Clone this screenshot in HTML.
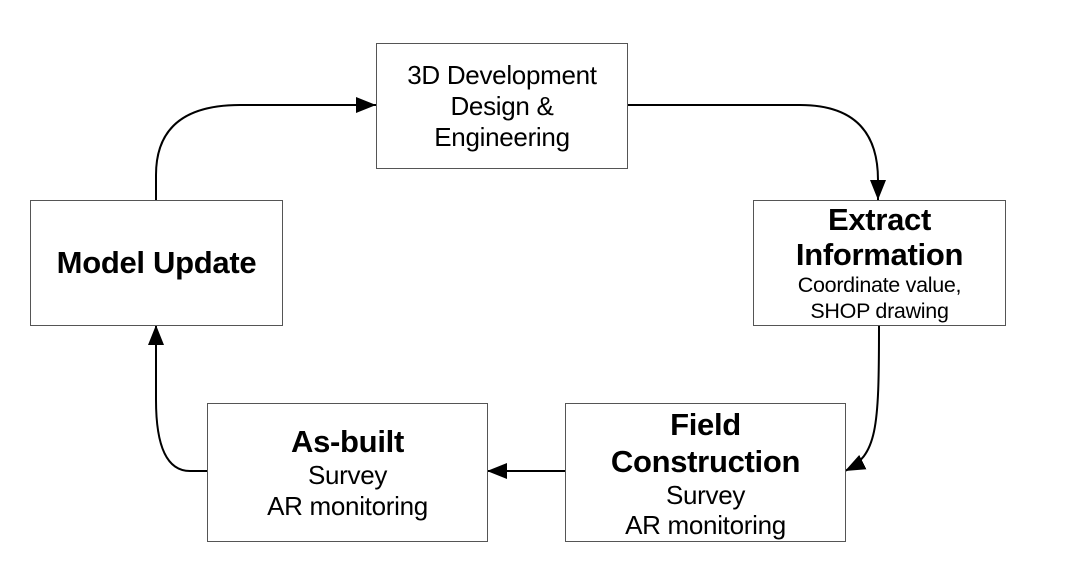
<!DOCTYPE html>
<html><head><meta charset="utf-8"><style>
body{margin:0;background:#fff;width:1073px;height:576px;overflow:hidden;position:relative;font-family:"Liberation Sans","Noto Sans CJK KR",sans-serif;color:#000}
.b{position:absolute;box-sizing:border-box;border:1px solid #555;background:#fff;display:flex;flex-direction:column;align-items:center;justify-content:center;text-align:center}
.t{font-size:26px;line-height:31px;letter-spacing:-0.3px}
.h{font-size:31px;font-weight:bold;line-height:36px;letter-spacing:-0.3px}
.s{font-size:21.5px;line-height:26px;letter-spacing:-0.3px}
</style></head><body>
<svg width="1073" height="576" style="position:absolute;left:0;top:0">
<defs><marker id="m" viewBox="0 0 20 16" markerWidth="20" markerHeight="16" refX="20" refY="8" orient="auto" markerUnits="userSpaceOnUse"><path d="M0,0 L20,8 L0,16 Z" fill="#000"/></marker></defs>
<g fill="none" stroke="#000" stroke-width="2">
<path d="M156,200 L156,175 Q156,105 240,105 L376,105" marker-end="url(#m)"/>
<path d="M627,105 L800,105 Q878,105 878,180 L878,200" marker-end="url(#m)"/>
<path d="M879,326 C879,430 877,455 845,471" marker-end="url(#m)"/>
<path d="M565,471 L487,471" marker-end="url(#m)"/>
<path d="M207,471 L190,471 Q156,471 156,400 L156,325" marker-end="url(#m)"/>
</g></svg>
<div class="b" style="left:376px;top:43px;width:252px;height:126px"><div class="t">3D Development<br>Design &amp;<br>Engineering</div></div>
<div class="b" style="left:753px;top:200px;width:253px;height:126px"><div class="h" style="line-height:35px">Extract<br>Information</div><div class="s">Coordinate value,<br>SHOP drawing</div></div>
<div class="b" style="left:30px;top:200px;width:253px;height:126px"><div class="h">Model Update</div></div>
<div class="b" style="left:565px;top:403px;width:281px;height:139px"><div class="h" style="line-height:37px">Field<br>Construction</div><div class="t" style="line-height:30px">Survey<br>AR monitoring</div></div>
<div class="b" style="left:207px;top:403px;width:281px;height:139px"><div class="h">As-built</div><div class="t" style="line-height:31px">Survey<br>AR monitoring</div></div>
</body></html>
